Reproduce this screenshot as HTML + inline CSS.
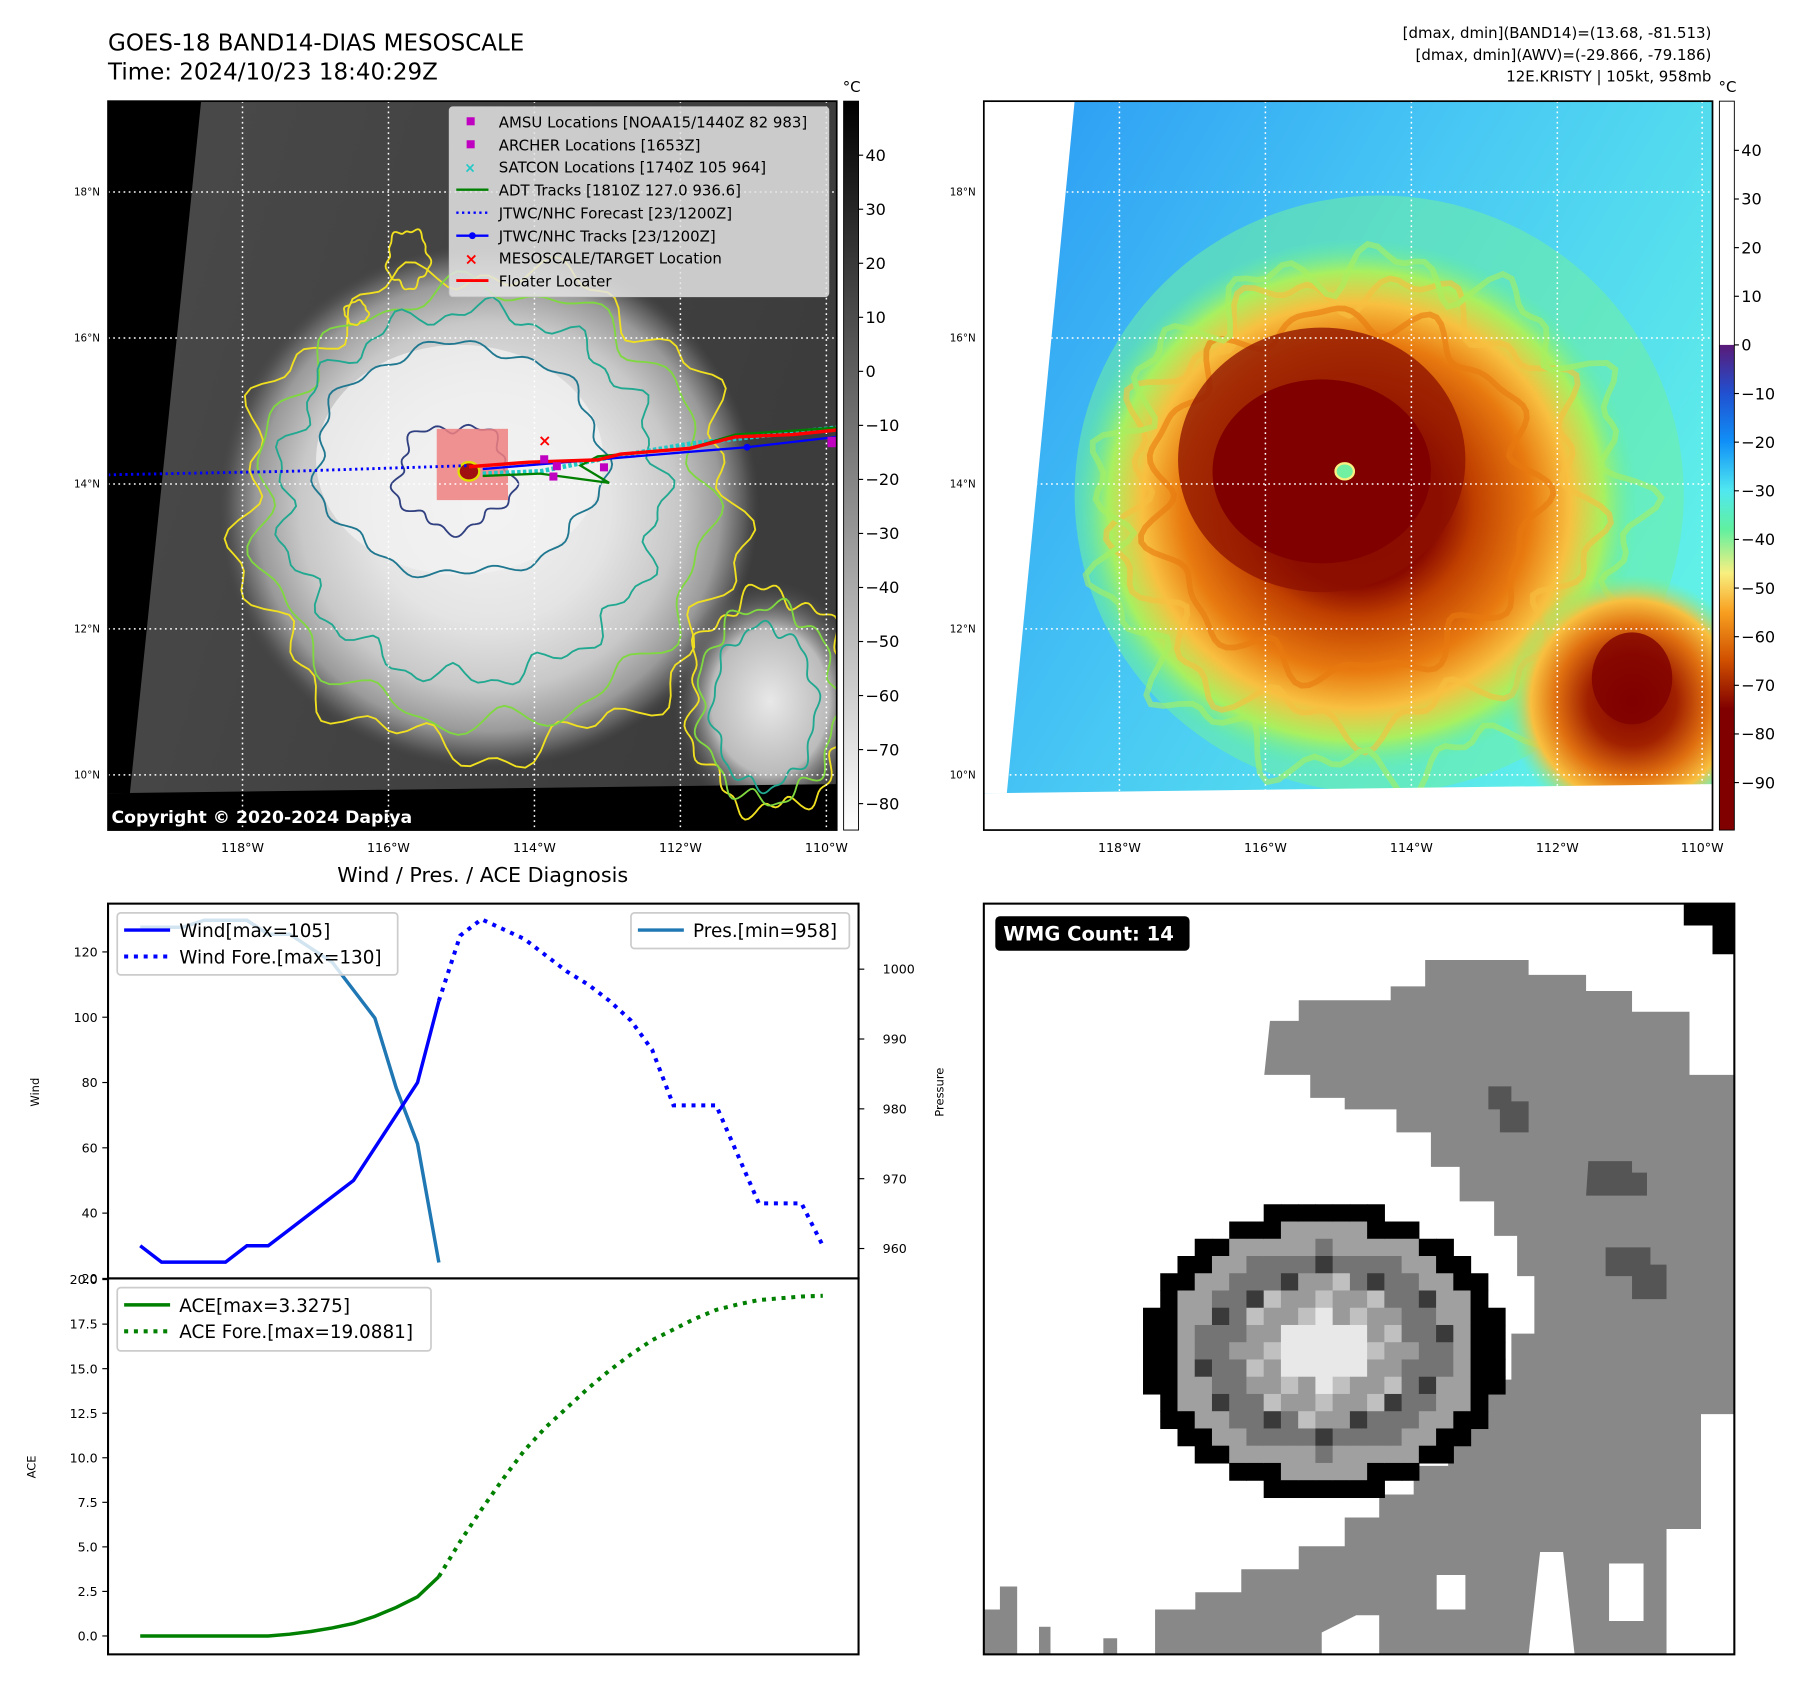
<!DOCTYPE html>
<html><head><meta charset="utf-8">
<style>
html,body{margin:0;padding:0;background:#fff;}
svg{display:block;font-family:"DejaVu Sans","Liberation Sans",sans-serif;}
</style></head>
<body>
<svg id="root" width="1801" height="1690" viewBox="0 0 1567 1470" preserveAspectRatio="none" xmlns="http://www.w3.org/2000/svg">
<defs>
  <radialGradient id="stormGray" cx="0.5" cy="0.5" r="0.5">
    <stop offset="0" stop-color="#f4f4f4"/>
    <stop offset="0.45" stop-color="#e4e4e4"/>
    <stop offset="0.7" stop-color="#c8c8c8"/>
    <stop offset="0.86" stop-color="#9a9a9a"/>
    <stop offset="0.95" stop-color="#5a5a5a"/>
    <stop offset="1" stop-color="#4a4a4a" stop-opacity="0"/>
  </radialGradient>
  <radialGradient id="stormGray2" cx="0.5" cy="0.5" r="0.5">
    <stop offset="0" stop-color="#e8e8e8"/>
    <stop offset="0.6" stop-color="#bbb"/>
    <stop offset="1" stop-color="#4a4a4a" stop-opacity="0"/>
  </radialGradient>
  <linearGradient id="bgGray" x1="0" y1="0" x2="1" y2="0.3">
    <stop offset="0" stop-color="#4a4a4a"/>
    <stop offset="1" stop-color="#3c3c3c"/>
  </linearGradient>
  <radialGradient id="stormColor" cx="0.5" cy="0.5" r="0.5">
    <stop offset="0" stop-color="#800000"/>
    <stop offset="0.3" stop-color="#8a0a00"/>
    <stop offset="0.42" stop-color="#c04000"/>
    <stop offset="0.62" stop-color="#e87a10"/>
    <stop offset="0.76" stop-color="#f8c040"/>
    <stop offset="0.88" stop-color="#a8f060"/>
    <stop offset="1" stop-color="#60f0a0" stop-opacity="0"/>
  </radialGradient>
  <radialGradient id="stormColor2" cx="0.5" cy="0.5" r="0.5">
    <stop offset="0" stop-color="#800000"/>
    <stop offset="0.35" stop-color="#a02000"/>
    <stop offset="0.6" stop-color="#e07010"/>
    <stop offset="0.8" stop-color="#f8c040"/>
    <stop offset="1" stop-color="#80f080" stop-opacity="0"/>
  </radialGradient>
  <linearGradient id="bgColor" x1="0" y1="0" x2="1" y2="0.6">
    <stop offset="0" stop-color="#2a98f4"/>
    <stop offset="0.5" stop-color="#48c8f4"/>
    <stop offset="1" stop-color="#60f0e8"/>
  </linearGradient>
  <linearGradient id="cbGray" x1="0" y1="0" x2="0" y2="1">
    <stop offset="0" stop-color="#000"/>
    <stop offset="1" stop-color="#fff"/>
  </linearGradient>
  <linearGradient id="cbColor" x1="0" y1="0" x2="0" y2="1">
    <stop offset="0" stop-color="#5a1a78"/>
    <stop offset="0.1" stop-color="#2050d0"/>
    <stop offset="0.2" stop-color="#1090f8"/>
    <stop offset="0.3" stop-color="#50e8f0"/>
    <stop offset="0.38" stop-color="#60f0a0"/>
    <stop offset="0.47" stop-color="#f8f080"/>
    <stop offset="0.55" stop-color="#f8a020"/>
    <stop offset="0.65" stop-color="#d05000"/>
    <stop offset="0.75" stop-color="#800000"/>
    <stop offset="1" stop-color="#800000"/>
  </linearGradient>
  <clipPath id="clipM1"><rect x="94" y="88" width="634" height="634"/></clipPath>
  <clipPath id="clipM2"><rect x="856" y="88" width="634" height="634"/></clipPath>
  <clipPath id="clipW"><rect x="94" y="786" width="653" height="326"/></clipPath>
  <clipPath id="clipA"><rect x="94" y="1112" width="653" height="327"/></clipPath>
  <clipPath id="clipR"><rect x="856" y="786" width="653" height="653"/></clipPath>
</defs>

<text x="94" y="44" font-size="20">GOES-18 BAND14-DIAS MESOSCALE</text>
<text x="94" y="69" font-size="20">Time: 2024/10/23 18:40:29Z</text>
<g font-size="13" text-anchor="end">
  <text x="1489" y="33">[dmax, dmin](BAND14)=(13.68, -81.513)</text>
  <text x="1489" y="52">[dmax, dmin](AWV)=(-29.866, -79.186)</text>
  <text x="1489" y="71">12E.KRISTY | 105kt, 958mb</text>
</g>

<g clip-path="url(#clipM1)">
  <rect x="94" y="88" width="634" height="634" fill="url(#bgGray)"/>
  <ellipse cx="425" cy="440" rx="235" ry="228" fill="url(#stormGray)"/>
  <ellipse cx="400" cy="400" rx="125" ry="100" fill="#f2f2f2" opacity="0.75"/>
  <ellipse cx="670" cy="610" rx="85" ry="105" fill="url(#stormGray2)"/>
  <polygon points="94,88 175,88 113,690 94,690" fill="#000"/>
  <polygon points="94,690 728,682 728,722 94,722" fill="#000"/>
  <g id="contours1" fill="none" stroke-width="1.6"></g>
  <rect x="380" y="373" width="62" height="62" fill="#f08080" opacity="0.85"/>
  <ellipse cx="408" cy="410" rx="9" ry="8" fill="#a01010" stroke="#e0e000" stroke-width="2"/>
  <g stroke-dasharray="1.5,3" stroke="#fff" stroke-width="1.3">
    <line x1="94" y1="167" x2="728" y2="167"/><line x1="94" y1="294" x2="728" y2="294"/>
    <line x1="94" y1="421" x2="728" y2="421"/><line x1="94" y1="547" x2="728" y2="547"/>
    <line x1="94" y1="674" x2="728" y2="674"/>
    <line x1="211" y1="88" x2="211" y2="722"/><line x1="338" y1="88" x2="338" y2="722"/>
    <line x1="465" y1="88" x2="465" y2="722"/><line x1="592" y1="88" x2="592" y2="722"/>
    <line x1="719" y1="88" x2="719" y2="722"/>
  </g>
  <polyline points="94,413 250,410 408,405" fill="none" stroke="#0000ff" stroke-width="2.5" stroke-dasharray="2,3"/>
  <polyline points="420,412 470,410 530,398 600,386 728,372" fill="none" stroke="#20c8c8" stroke-width="4" stroke-dasharray="3,2"/>
  <polyline points="420,414 470,412 530,420 505,405 520,397 600,390 640,378 728,372" fill="none" stroke="#008000" stroke-width="2"/>
  <polyline points="420,408 600,393 650,389 728,380" fill="none" stroke="#0000ff" stroke-width="2"/>
  <circle cx="650" cy="389" r="3" fill="#0000ff"/>
  <polyline points="408,406 460,402 520,400 540,395 600,390 640,380 690,378 728,374" fill="none" stroke="#ff0000" stroke-width="3"/>
  <g fill="#c000c0">
    <rect x="470" y="396" width="7" height="7"/><rect x="481" y="402" width="7" height="7"/>
    <rect x="478" y="411" width="7" height="7"/><rect x="522" y="403" width="7" height="7"/>
    <rect x="720" y="380" width="8" height="9"/>
  </g>
  <text x="474" y="388" font-size="14" fill="#ff0000" text-anchor="middle" font-weight="bold">×</text>
  <text x="97" y="716" font-size="15" font-weight="bold" fill="#fff">Copyright © 2020-2024 Dapiya</text>
</g>
<rect x="94" y="88" width="634" height="634" fill="none" stroke="#000" stroke-width="1.5"/>
<g font-size="13">
  <rect x="391" y="93" width="330" height="165" rx="3" fill="#e4e4e4" fill-opacity="0.85" stroke="#ccc"/>
  <rect x="406" y="102" width="7" height="7" fill="#c000c0"/>
  <text x="434" y="111">AMSU Locations [NOAA15/1440Z 82 983]</text>
  <rect x="406" y="122" width="7" height="7" fill="#c000c0"/>
  <text x="434" y="131">ARCHER Locations [1653Z]</text>
  <text x="409" y="150" fill="#20c8c8" font-size="12" text-anchor="middle" font-weight="bold">×</text>
  <text x="434" y="150">SATCON Locations [1740Z 105 964]</text>
  <line x1="397" y1="165" x2="425" y2="165" stroke="#008000" stroke-width="2"/>
  <text x="434" y="170">ADT Tracks [1810Z 127.0 936.6]</text>
  <line x1="397" y1="185" x2="425" y2="185" stroke="#0000ff" stroke-width="2" stroke-dasharray="2,3"/>
  <text x="434" y="190">JTWC/NHC Forecast [23/1200Z]</text>
  <line x1="397" y1="205" x2="425" y2="205" stroke="#0000ff" stroke-width="2"/><circle cx="411" cy="205" r="3" fill="#0000ff"/>
  <text x="434" y="210">JTWC/NHC Tracks [23/1200Z]</text>
  <text x="410" y="230" fill="#ff0000" font-size="14" text-anchor="middle" font-weight="bold">×</text>
  <text x="434" y="229">MESOSCALE/TARGET Location</text>
  <line x1="397" y1="244" x2="425" y2="244" stroke="#ff0000" stroke-width="2.5"/>
  <text x="434" y="249">Floater Locater</text>
</g>
<g font-size="9" text-anchor="end">
  <text x="87" y="170">18°N</text><text x="87" y="297">16°N</text><text x="87" y="424">14°N</text><text x="87" y="550">12°N</text><text x="87" y="677">10°N</text>
</g>
<g font-size="11" text-anchor="middle">
  <text x="211" y="741">118°W</text><text x="338" y="741">116°W</text><text x="465" y="741">114°W</text><text x="592" y="741">112°W</text><text x="719" y="741">110°W</text>
</g>
<rect x="734" y="88" width="13" height="634" fill="url(#cbGray)" stroke="#000" stroke-width="0.8"/>
<text x="741" y="80" font-size="13" text-anchor="middle">°C</text>
<g id="cb1" font-size="14"></g>

<g clip-path="url(#clipM2)">
  <rect x="856" y="88" width="634" height="634" fill="url(#bgColor)"/>
  <ellipse cx="1200" cy="430" rx="265" ry="260" fill="#70f0a0" opacity="0.55"/>
  <ellipse cx="1180" cy="440" rx="245" ry="232" fill="url(#stormColor)"/>
  <g id="bands2" fill="none" stroke-width="5" opacity="0.6"></g>
  <ellipse cx="1150" cy="400" rx="125" ry="115" fill="#8c1000" opacity="0.75"/>
  <ellipse cx="1150" cy="410" rx="95" ry="80" fill="#800000"/>
  <ellipse cx="1420" cy="610" rx="110" ry="110" fill="url(#stormColor2)"/>
  <ellipse cx="1420" cy="590" rx="35" ry="40" fill="#800000" opacity="0.8"/>
  <ellipse cx="1170" cy="410" rx="8" ry="7" fill="#70f0a0" stroke="#f8f080" stroke-width="2"/>
  <polygon points="856,88 935,88 876,690 856,690" fill="#fff"/>
  <polygon points="856,690 1490,682 1490,722 856,722" fill="#fff"/>
  <g stroke-dasharray="1.5,3" stroke="#fff" stroke-width="1.3">
    <line x1="856" y1="167" x2="1490" y2="167"/><line x1="856" y1="294" x2="1490" y2="294"/>
    <line x1="856" y1="421" x2="1490" y2="421"/><line x1="856" y1="547" x2="1490" y2="547"/>
    <line x1="856" y1="674" x2="1490" y2="674"/>
    <line x1="974" y1="88" x2="974" y2="722"/><line x1="1101" y1="88" x2="1101" y2="722"/>
    <line x1="1228" y1="88" x2="1228" y2="722"/><line x1="1355" y1="88" x2="1355" y2="722"/>
    <line x1="1481" y1="88" x2="1481" y2="722"/>
  </g>
</g>
<rect x="856" y="88" width="634" height="634" fill="none" stroke="#000" stroke-width="1.5"/>
<g font-size="9" text-anchor="end">
  <text x="849" y="170">18°N</text><text x="849" y="297">16°N</text><text x="849" y="424">14°N</text><text x="849" y="550">12°N</text><text x="849" y="677">10°N</text>
</g>
<g font-size="11" text-anchor="middle">
  <text x="974" y="741">118°W</text><text x="1101" y="741">116°W</text><text x="1228" y="741">114°W</text><text x="1355" y="741">112°W</text><text x="1481" y="741">110°W</text>
</g>
<rect x="1496" y="88" width="13" height="212" fill="#fff"/>
<rect x="1496" y="300" width="13" height="422" fill="url(#cbColor)"/>
<rect x="1496" y="88" width="13" height="634" fill="none" stroke="#000" stroke-width="0.8"/>
<text x="1503" y="80" font-size="13" text-anchor="middle">°C</text>
<g id="cb2" font-size="14"></g>

<text x="420" y="767" font-size="18" text-anchor="middle">Wind / Pres. / ACE Diagnosis</text>
<g id="chart"></g>

<g clip-path="url(#clipR)">
  <rect x="856" y="786" width="653" height="653" fill="#fff"/>
  <polygon fill="#888" points="1105,888 1130,888 1130,870 1210,870 1210,858 1240,858 1240,835 1330,835 1330,848 1380,848 1380,862 1420,862 1420,880 1470,880 1470,935 1509,935 1509,1230 1480,1230 1480,1330 1450,1330 1450,1439 1005,1439 1005,1400 1040,1400 1040,1385 1080,1385 1080,1365 1130,1365 1130,1345 1170,1345 1170,1320 1200,1320 1200,1300 1230,1300 1230,1275 1260,1275 1260,1240 1290,1240 1290,1200 1315,1200 1315,1160 1335,1160 1335,1110 1320,1110 1320,1075 1300,1075 1300,1045 1270,1045 1270,1015 1245,1015 1245,985 1215,985 1215,965 1170,965 1170,955 1140,955 1140,935 1100,935"/>
  <polygon fill="#fff" points="1150,1439 1150,1420 1180,1405 1200,1405 1200,1439"/>
  <polygon fill="#fff" points="1250,1370 1275,1370 1275,1400 1250,1400"/>
  <polygon fill="#fff" points="1330,1439 1340,1350 1360,1350 1370,1439"/>
  <polygon fill="#fff" points="1400,1360 1430,1360 1430,1410 1400,1410"/>
  <polygon fill="#888" points="856,1439 856,1400 870,1400 870,1380 885,1380 885,1439"/>
  <rect x="904" y="1415" width="10" height="24" fill="#888"/>
  <rect x="960" y="1425" width="12" height="14" fill="#888"/>
  <polygon fill="#555" points="1295,945 1315,945 1315,958 1330,958 1330,985 1305,985 1305,965 1295,965"/>
  <polygon fill="#555" points="1382,1010 1420,1010 1420,1020 1433,1020 1433,1040 1380,1040"/>
  <polygon fill="#555" points="1397,1085 1436,1085 1436,1100 1450,1100 1450,1130 1420,1130 1420,1110 1397,1110"/>
  <polygon fill="#000" points="1465,786 1509,786 1509,830 1490,830 1490,805 1465,805"/>
  <g id="eye"></g>
</g>
<rect x="856" y="786" width="653" height="653" fill="none" stroke="#000" stroke-width="1.8"/>
<rect x="866" y="797" width="169" height="30" rx="4" fill="#000"/>
<text x="873" y="818" font-size="17" font-weight="bold" fill="#fff">WMG Count: 14</text>
</svg>

<script>
const windObs = [30,25,25,25,25,30,30,35,40,45,50,60,70,80,105];
const windFore = [105,125,130,127,124,119,114,110,105,99,90,73,73,73,58,43,43,43,30];
const presObs = [1006,1006,1006,1007,1007,1007,1005,1005,1003,1001,997,993,983,975,958];
const aceObs = [0,0,0,0,0,0,0,0.1,0.25,0.45,0.7,1.1,1.6,2.2,3.33];
const aceFore = [3.33,5.3,7.1,8.8,10.4,11.7,12.8,13.9,14.9,15.8,16.6,17.2,17.8,18.3,18.6,18.85,18.95,19.05,19.09];
const windTicks = [40,60,80,100,120];
const presTicks = [960,970,980,990,1000];
const aceTicks = [0,2.5,5,7.5,10,12.5,15,17.5,20];
const cb1Ticks = [40,30,20,10,0,-10,-20,-30,-40,-50,-60,-70,-80];
const cb2Ticks = [40,30,20,10,0,-10,-20,-30,-40,-50,-60,-70,-80,-90];

const NS='http://www.w3.org/2000/svg';
function mk(tag,attrs,parent){const e=document.createElementNS(NS,tag);for(const k in attrs)e.setAttribute(k,attrs[k]);parent.appendChild(e);return e;}
const xIdx = i => 122 + i*18.56;
const yWind = v => 1112 - (v-20)*2.84;
const yPres = v => 843 + (1000-v)*6.075;
const yAce = v => 1423 - v*15.5;
const yCb1 = v => 135 + (40-v)*4.7;
const yCb2 = v => 300 - v*4.23;

const chart=document.getElementById('chart');
let g=mk('g',{'clip-path':'url(#clipW)'},chart);
let p=mk('polyline',{points:presObs.map((v,i)=>xIdx(i)+','+yPres(v)).join(' '),fill:'none',stroke:'#1f77b4','stroke-width':3},g);


p=mk('polyline',{points:windObs.map((v,i)=>xIdx(i)+','+yWind(v)).join(' '),fill:'none',stroke:'#0000ff','stroke-width':3},g);


p=mk('polyline',{points:windFore.map((v,i)=>xIdx(i+14)+','+yWind(v)).join(' '),fill:'none',stroke:'#0000ff','stroke-width':3.5,'stroke-dasharray':'3.5,5'},g);


g=mk('g',{'clip-path':'url(#clipA)'},chart);
p=mk('polyline',{points:aceObs.map((v,i)=>xIdx(i)+','+yAce(v)).join(' '),fill:'none',stroke:'#008000','stroke-width':3},g);


p=mk('polyline',{points:aceFore.map((v,i)=>xIdx(i+14)+','+yAce(v)).join(' '),fill:'none',stroke:'#008000','stroke-width':3.5,'stroke-dasharray':'3.5,5'},g);


mk('rect',{x:94,y:786,width:653,height:326,fill:'none',stroke:'#000','stroke-width':1.8},chart);
mk('rect',{x:94,y:1112,width:653,height:327,fill:'none',stroke:'#000','stroke-width':1.8},chart);
windTicks.concat([20]).forEach(v=>{const y=yWind(v);mk('line',{x1:89,y1:y,x2:94,y2:y,stroke:'#000'},chart);
 const t=mk('text',{x:85,y:y+4,'font-size':11,'text-anchor':'end'},chart);t.textContent=v;});
presTicks.forEach(v=>{const y=yPres(v);mk('line',{x1:747,y1:y,x2:752,y2:y,stroke:'#000'},chart);
 const t=mk('text',{x:768,y:y+4,'font-size':11},chart);t.textContent=v;});
aceTicks.forEach(v=>{const y=yAce(v);mk('line',{x1:89,y1:y,x2:94,y2:y,stroke:'#000'},chart);
 const t=mk('text',{x:85,y:y+4,'font-size':11,'text-anchor':'end'},chart);t.textContent=v.toFixed(1);});
let t=mk('text',{x:0,y:0,'font-size':10,'text-anchor':'middle',transform:'translate(34,950) rotate(-90)'},chart);t.textContent='Wind';
t=mk('text',{x:0,y:0,'font-size':10,'text-anchor':'middle',transform:'translate(821,950) rotate(-90)'},chart);t.textContent='Pressure';
t=mk('text',{x:0,y:0,'font-size':10,'text-anchor':'middle',transform:'translate(31,1276) rotate(-90)'},chart);t.textContent='ACE';
function legend(x,y,w,h,items){const lg=mk('g',{},chart);
 
 
 mk('rect',{x:x,y:y,width:w,height:h,rx:3,fill:'#fff','fill-opacity':0.8,stroke:'#ccc','stroke-width':1.5},lg);
 items.forEach((it,i)=>{const cy=y+15+i*23;
  mk('line',{x1:x+6,y1:cy,x2:x+46,y2:cy,stroke:it.c,'stroke-width':it.d?3.5:3,'stroke-dasharray':it.d?'3.5,5':'none'},lg);
  const tt=mk('text',{x:x+54,y:cy+6,'font-size':16},lg);tt.textContent=it.t;});}
legend(102,794,244,54,[{c:'#0000ff',t:'Wind[max=105]'},{c:'#0000ff',t:'Wind Fore.[max=130]',d:1}]);
legend(549,794,190,31,[{c:'#1f77b4',t:'Pres.[min=958]'}]);
legend(102,1120,273,55,[{c:'#008000',t:'ACE[max=3.3275]'},{c:'#008000',t:'ACE Fore.[max=19.0881]',d:1}]);

const cb1=document.getElementById('cb1');
cb1Ticks.forEach(v=>{const y=yCb1(v);mk('line',{x1:747,y1:y,x2:751,y2:y,stroke:'#000'},cb1);
 const tt=mk('text',{x:753,y:y+5},cb1);tt.textContent=(v<0?'\u2212'+(-v):v);});
const cb2=document.getElementById('cb2');
cb2Ticks.forEach(v=>{const y=yCb2(v);mk('line',{x1:1509,y1:y,x2:1513,y2:y,stroke:'#000'},cb2);
 const tt=mk('text',{x:1515,y:y+5},cb2);tt.textContent=(v<0?'\u2212'+(-v):v);});

function blob(cx,cy,rx,ry,a1,f1,a2,f2,ph){let s='';for(let k=0;k<=180;k++){const th=k/180*Math.PI*2;
 const r=1+a1*Math.sin(f1*th+ph)+a2*Math.sin(f2*th+ph*1.7);
 s+=(k?'L':'M')+(cx+rx*r*Math.cos(th)).toFixed(1)+','+(cy+ry*r*Math.sin(th)).toFixed(1);}return s+'Z';}
const ct=document.getElementById('contours1');
[['#f0e020',425,445,215,210,0.06,9,0.04,23,0.3],['#80d840',420,440,195,190,0.05,11,0.03,19,1.1],
 ['#20a890',410,430,165,160,0.05,13,0.03,27,2.0],['#207890',400,400,125,100,0.04,7,0.03,17,0.7],
 ['#304080',395,415,50,45,0.1,5,0.06,13,0.2],
 ['#f0e020',670,610,70,95,0.08,7,0.05,17,0.9],['#80d840',668,612,60,85,0.07,9,0.04,15,1.4],['#20a890',665,615,45,70,0.06,8,0.04,14,2.2],
 ['#f0e020',355,225,18,25,0.1,5,0.05,11,0.5],['#f0e020',310,272,10,10,0.1,4,0.05,9,0.5]
].forEach(b=>{const pa=mk('path',{d:blob(b[1],b[2],b[3],b[4],b[5],b[6],b[7],b[8],b[9]),stroke:b[0]},ct);
 
 });
const bd=document.getElementById('bands2');
[['#f8c040',1180,440,200,190,0.08,9,0.05,21,0.4],['#e87a10',1170,430,165,155,0.07,11,0.04,17,1.3],['#a8f060',1190,450,230,220,0.07,13,0.05,25,2.1]]
.forEach(b=>{const pa=mk('path',{d:blob(b[1],b[2],b[3],b[4],b[5],b[6],b[7],b[8],b[9]),stroke:b[0]},bd);
 
 });

const eye=document.getElementById('eye');
const ecx=1152, ecy=1175, s=15;
for(let gx=-11;gx<=11;gx++)for(let gy=-9;gy<=9;gy++){
 const x=ecx+gx*s, y=ecy+gy*s;
 const d=Math.sqrt((gx/10.2)**2+(gy/8.4)**2);
 let c=null;
 if(d<0.25)c='#e8e8e8';else if(d<0.5)c=((gx+gy)%3===0)?'#c0c0c0':'#9a9a9a';
 else if(d<0.72)c=((gx*3+gy)%5===0)?'#3a3a3a':'#747474';else if(d<0.88)c='#a0a0a0';else if(d<1.02)c='#000';
 if(c)mk('rect',{x:x-s/2,y:y-s/2,width:s+0.5,height:s+0.5,fill:c},eye);
}
</script>
</body></html>
